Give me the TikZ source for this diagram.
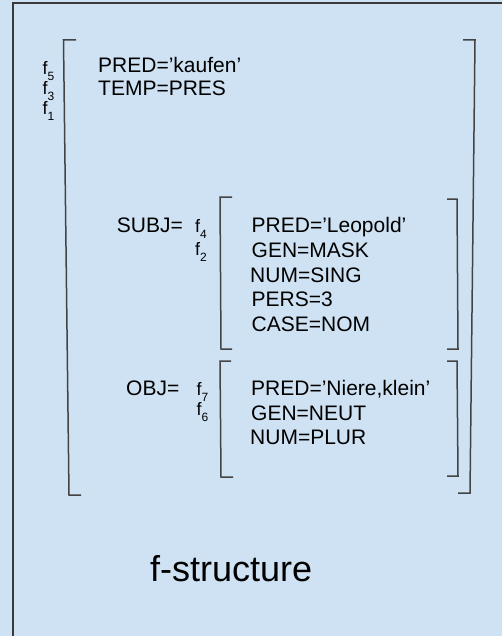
\documentclass[tikz,border=0pt]{standalone}
\usepackage{fontspec}
\setmainfont{Liberation Sans}
\definecolor{bgblue}{HTML}{CFE2F3}
\definecolor{framecol}{HTML}{3A3A3A}
\definecolor{brkcol}{HTML}{434343}
\newcommand\fsub[1]{f\raisebox{-6bp}{\fontsize{12bp}{13bp}\selectfont #1}}
\begin{document}
\begin{tikzpicture}[x=1bp,y=-1bp,
  txt/.style={anchor=base west, inner sep=0pt, text=black, font=\fontsize{21bp}{25bp}\selectfont},
  flab/.style={anchor=base west, inner sep=0pt, text=black, font=\fontsize{18bp}{20bp}\selectfont},
  title/.style={anchor=base west, inner sep=0pt, text=black, font=\fontsize{36bp}{40bp}\selectfont},
  brk/.style={draw=brkcol, line width=1.5bp},
  framel/.style={draw=framecol, line width=2bp}]
\useasboundingbox (0,0) rectangle (502,636);
\fill[bgblue] (0,0) rectangle (502,636);
% frame
\draw[framel] (13,636) -- (13,3) -- (502,3);
% outer bracket
\draw[brk] (76,40) -- (63.5,40) -- (69,495) -- (81,495);
\draw[brk] (463,40) -- (475,40) -- (470,493) -- (458,493);
% SUBJ bracket
\draw[brk] (232,197) -- (220,197) -- (221,349) -- (232,349);
\draw[brk] (447,199) -- (457,199) -- (458,349) -- (447,349);
% OBJ bracket
\draw[brk] (231,361) -- (220,361) -- (221,477) -- (233,477);
\draw[brk] (447,361) -- (457,361) -- (458,476) -- (447,476);
% top level
\node[flab] (f5) at (42.5,75) {\fsub{5}};
\node[flab] (f3) at (42.5,95) {\fsub{3}};
\node[flab] (f1) at (42.5,115) {\fsub{1}};
\node[txt] (pred1) at (98,72.5) {PRED=’kaufen’};
\node[txt] (temp) at (98,95.5) {TEMP=PRES};
% SUBJ
\node[txt] (subj) at (116.7,232) {SUBJ=};
\node[flab] (f4) at (195,232) {\fsub{4}};
\node[flab] (f2) at (195,255) {\fsub{2}};
\node[txt] (pred2) at (251.5,232) {PRED=’Leopold’};
\node[txt] (gen2) at (251.5,257) {GEN=MASK};
\node[txt] (num2) at (250,282) {NUM=SING};
\node[txt] (pers2) at (251.5,306) {PERS=3};
\node[txt] (case2) at (251.5,331) {CASE=NOM};
% OBJ
\node[txt] (obj) at (126,395) {OBJ=};
\node[flab] (f7) at (196.5,395) {\fsub{7}};
\node[flab] (f6) at (196.5,415) {\fsub{6}};
\node[txt] (pred3) at (251,395) {PRED=’Niere,klein’};
\node[txt] (gen3) at (251,420) {GEN=NEUT};
\node[txt] (num3) at (250,444) {NUM=PLUR};
% caption
\node[title] (cap) at (150,581) {f-structure};
\end{tikzpicture}
\end{document}
